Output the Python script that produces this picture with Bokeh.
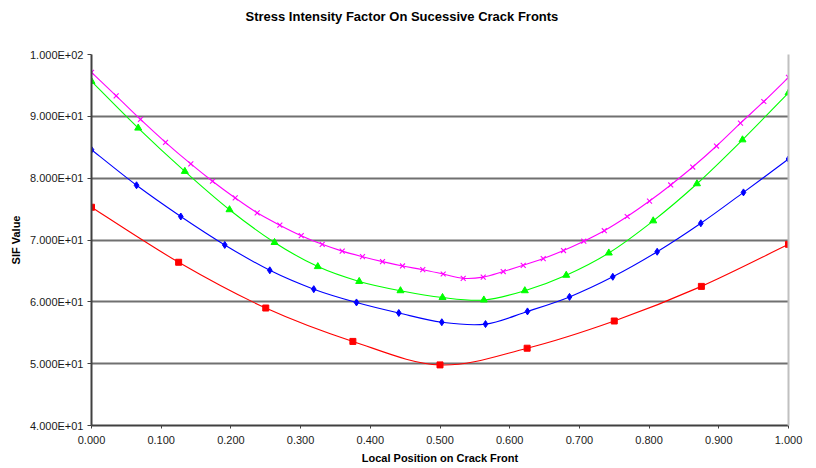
import numpy as np
from bokeh.plotting import figure
from bokeh.models import Range1d, FixedTicker, LinearAxis, Title
from bokeh.embed import file_html
from bokeh.resources import INLINE

# ---------------- data ----------------
title_text = "Stress Intensity Factor On Sucessive Crack Fronts"
x_title = "Local Position on Crack Front"
y_title = "SIF Value"

x_ticks = [0.0, 0.1, 0.2, 0.3, 0.4, 0.5, 0.6, 0.7, 0.8, 0.9, 1.0]
x_tick_labels = ["0.000", "0.100", "0.200", "0.300", "0.400", "0.500",
                 "0.600", "0.700", "0.800", "0.900", "1.000"]
y_ticks = [40, 50, 60, 70, 80, 90, 100]
y_tick_labels = ["4.000E+01", "5.000E+01", "6.000E+01", "7.000E+01",
                 "8.000E+01", "9.000E+01", "1.000E+02"]

# front 1 (red squares)
front1_x = [0.0, 0.125, 0.25, 0.375, 0.5, 0.625, 0.75, 0.875, 1.0]
front1_y = [75.3, 66.4, 59.0, 53.6, 49.8, 52.5, 56.9, 62.5, 69.3]

# front 2 (blue diamonds)
front2_x = [0.0, 0.0646, 0.1281, 0.1912, 0.2558, 0.3189, 0.3802, 0.4409, 0.5026,
            0.5653, 0.6255, 0.6858, 0.7479, 0.8116, 0.8742, 0.9354, 1.0]
front2_y = [84.6, 78.85, 73.8, 69.2, 65.1, 62.05, 59.9, 58.2, 56.7,
            56.4, 58.45, 60.8, 64.05, 68.1, 72.7, 77.7, 83.1]

# front 3 (green triangles)
front3_x = [0.0, 0.067, 0.1339, 0.198, 0.2626, 0.3247, 0.3841, 0.4433, 0.5036,
            0.5629, 0.6217, 0.6811, 0.7422, 0.8059, 0.8687, 0.934, 1.0]
front3_y = [95.65, 88.1, 81.1, 74.9, 69.6, 65.7, 63.3, 61.8, 60.7,
            60.3, 61.8, 64.3, 67.9, 73.1, 79.1, 86.2, 93.8]

# front 4 (magenta crosses)
front4_x = [0.0, 0.0354, 0.0703, 0.1062, 0.1425, 0.1736, 0.2062, 0.2377, 0.2702,
            0.3009, 0.3310, 0.3597, 0.3888, 0.4175, 0.4462, 0.4753, 0.5046,
            0.5333, 0.5620, 0.5907, 0.6194, 0.6481, 0.6772, 0.7063, 0.7357,
            0.7686, 0.8006, 0.8310, 0.8626, 0.8967, 0.9311, 0.9646, 1.0]
front4_y = [97.1, 93.3, 89.5, 85.8, 82.3, 79.5, 76.8, 74.4, 72.4,
            70.7, 69.3, 68.2, 67.3, 66.5, 65.8, 65.2, 64.5,
            63.8, 64.0, 64.9, 65.9, 67.0, 68.3, 69.8, 71.5,
            73.8, 76.3, 78.9, 81.8, 85.2, 88.9, 92.4, 96.3]

series = [
    (front1_x, front1_y, "#FF0000", "square", 6),
    (front2_x, front2_y, "#0000FF", "diamond", 7),
    (front3_x, front3_y, "#00FF00", "triangle", 7),
    (front4_x, front4_y, "#FF00FF", "x", 7),
]

FONT = "Liberation Sans"

p = figure(width=816, height=468, output_backend="svg", toolbar_location=None,
           x_range=Range1d(0, 1), y_range=Range1d(40, 100),
           min_border_left=91, min_border_right=28,
           min_border_top=54, min_border_bottom=43,
           background_fill_color="white", border_fill_color="white")
p.outline_line_color = None

p.title.text = title_text
p.title.align = "left"
p.title.offset = 154
p.title.text_font = FONT
p.title.text_font_size = "13px"
p.title.text_font_style = "bold"
p.title.text_color = "black"

# empty spacer title between the chart title and the frame
spacer = Title(text=" ", text_font=FONT, text_font_size="12px")
p.add_layout(spacer, "above")

# axes
p.xaxis.ticker = FixedTicker(ticks=x_ticks)
p.xaxis.major_label_overrides = {t: l for t, l in zip(x_ticks, x_tick_labels)}
p.yaxis.ticker = FixedTicker(ticks=y_ticks)
p.yaxis.major_label_overrides = {t: l for t, l in zip(y_ticks, y_tick_labels)}
for ax in (p.xaxis[0], p.yaxis[0]):
    ax.axis_line_color = "#404040"
    ax.axis_line_width = 2
    ax.major_tick_line_color = "#404040"
    ax.major_tick_line_width = 1
    ax.major_tick_in = 0
    ax.minor_tick_line_color = None
    ax.major_label_text_font = FONT
    ax.major_label_text_font_size = "11px"
    ax.major_label_text_color = "#1a1a1a"
    ax.axis_label_text_font = FONT
    ax.axis_label_text_font_size = "11px"
    ax.axis_label_text_font_style = "bold"
    ax.axis_label_text_color = "black"
p.xaxis.axis_label = x_title
p.yaxis.axis_label = y_title
p.xaxis.major_tick_out = 3
p.xaxis.major_label_standoff = 7
p.xaxis.axis_label_standoff = 5
p.yaxis.major_tick_out = 4
p.yaxis.major_label_standoff = 4
p.yaxis.axis_label_standoff = 5

right = LinearAxis(ticker=FixedTicker(ticks=[]), axis_line_color="#c0c0c0",
                   axis_line_width=2, major_label_text_font_size="0px",
                   major_tick_line_color=None, minor_tick_line_color=None)
p.add_layout(right, "right")

p.xgrid.visible = False
p.ygrid.ticker = FixedTicker(ticks=y_ticks)
p.ygrid.grid_line_color = "#707070"
p.ygrid.grid_line_width = 2


def smooth_segments(xs, ys, k=1.0 / 6.0):
    xs = np.asarray(xs, float)
    ys = np.asarray(ys, float)
    n = len(xs)
    xp = np.concatenate([[xs[0]], xs, [xs[-1]]])
    yp = np.concatenate([[ys[0]], ys, [ys[-1]]])
    x0, y0 = xs[:-1], ys[:-1]
    x1, y1 = xs[1:], ys[1:]
    cx0 = x0 + (xp[2:n + 1] - xp[0:n - 1]) * k
    cy0 = y0 + (yp[2:n + 1] - yp[0:n - 1]) * k
    cx1 = x1 - (xp[3:n + 2] - xp[1:n]) * k
    cy1 = y1 - (yp[3:n + 2] - yp[1:n]) * k
    return dict(x0=x0, y0=y0, x1=x1, y1=y1, cx0=cx0, cy0=cy0, cx1=cx1, cy1=cy1)


for xs, ys, col, mk, sz in series:
    seg = smooth_segments(xs, ys)
    p.bezier(x0=seg["x0"], y0=seg["y0"], x1=seg["x1"], y1=seg["y1"],
             cx0=seg["cx0"], cy0=seg["cy0"], cx1=seg["cx1"], cy1=seg["cy1"],
             line_color=col, line_width=1.1)
    if mk == "x":
        p.scatter(xs, ys, marker=mk, size=sz, line_color=col, line_width=1.1)
    else:
        p.scatter(xs, ys, marker=mk, size=sz, fill_color=col, line_color=col)

open("out.html", "w").write(file_html(p, INLINE))
